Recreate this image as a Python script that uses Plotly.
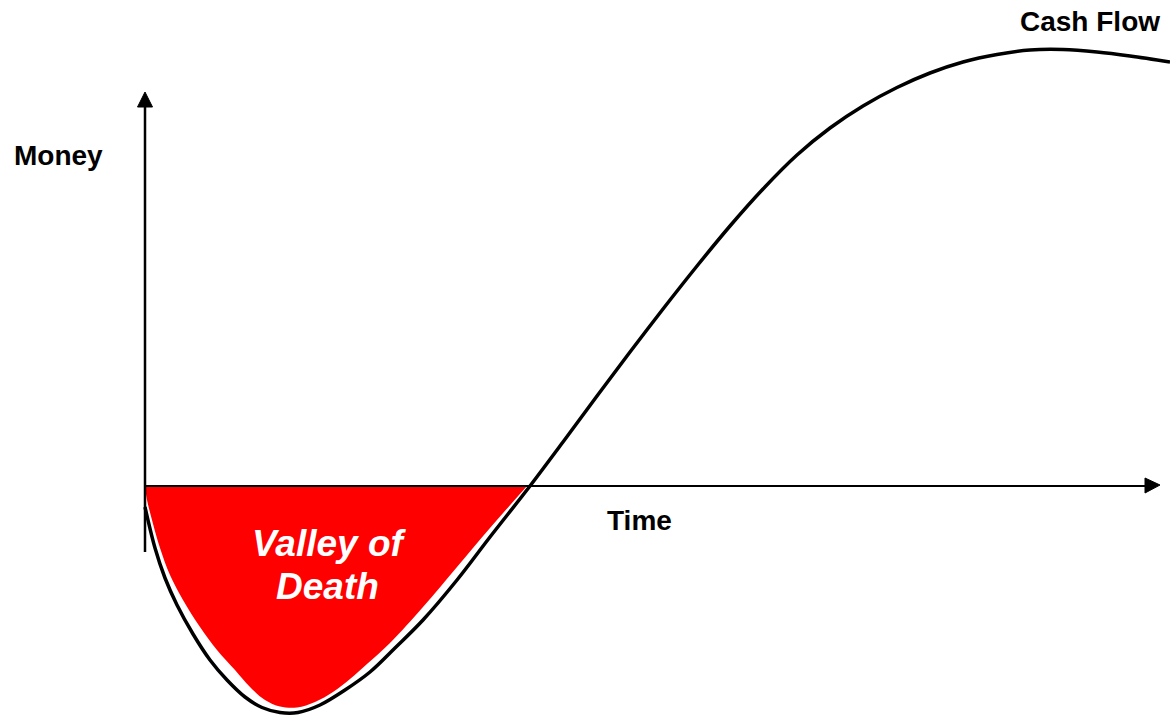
import plotly.graph_objects as go

# Cash flow curve (time units, money units); origin at axes crossing
time = [0, 10, 20, 32, 48, 65, 82, 100, 117, 135, 153, 175, 200, 225, 250, 278, 312, 345, 385,
        418, 452, 485, 518, 552, 585, 618, 652, 685, 718, 752, 785, 818, 852, 885, 918, 952,
        985, 1025]
money = [-21, -62, -92, -119, -148, -174, -194, -211, -221.5, -226.5, -226.5, -219, -204, -186,
         -162, -134, -94, -51, 0,
         44, 90, 134, 177, 220, 260, 297, 331, 358, 380, 398.5, 413, 424, 431.5, 436, 436.5,
         434, 430, 424]

# Valley of Death region: lower edge (filled up to the time axis)
valley_time = [0, 2, 7, 15, 25, 38, 55, 72, 90, 105, 120, 135, 152, 170, 188, 205, 222, 245,
               278, 312, 345, 382]
valley_money = [-1, -14, -34, -62, -89, -114, -141, -164, -184, -201, -214, -220.5, -221.5,
                -216, -206, -193, -178, -157, -121, -81, -42, 0]

labels = {"y_axis": "Money", "x_axis": "Time", "curve": "Cash Flow",
          "valley1": "Valley of", "valley2": "Death"}

FONT = "Liberation Sans, Arial, sans-serif"

fig = go.Figure()
fig.add_trace(go.Scatter(x=valley_time, y=valley_money, mode="lines", fill="tozeroy",
                         fillcolor="#ff0000",
                         line=dict(width=0, color="#ff0000", shape="spline", smoothing=1),
                         hoverinfo="skip", showlegend=False))
fig.add_trace(go.Scatter(x=time, y=money, mode="lines",
                         line=dict(color="black", width=3.5, shape="spline", smoothing=1),
                         hoverinfo="skip", showlegend=False))

shapes = [
    # x axis
    dict(type="line", x0=0, y0=0, x1=1003, y1=0, line=dict(color="black", width=2)),
    dict(type="path", path="M 1000,8 L 1015,1 L 1000,-7 Z", fillcolor="black",
         line=dict(color="black", width=1)),
    # y axis
    dict(type="line", x0=0, y0=-66, x1=0, y1=382, line=dict(color="black", width=2.5)),
    dict(type="path", path="M -7.5,379 L 0,394 L 7.5,379 Z", fillcolor="black",
         line=dict(color="black", width=1)),
]

annotations = [
    dict(x=-87, y=331, text="<b>" + labels["y_axis"] + "</b>", showarrow=False,
         font=dict(family=FONT, size=28, color="black"), xanchor="center", yanchor="middle"),
    dict(x=494, y=-34, text="<b>" + labels["x_axis"] + "</b>", showarrow=False,
         font=dict(family=FONT, size=28, color="black"), xanchor="center", yanchor="middle"),
    dict(x=1017, y=465, text="<b>" + labels["curve"] + "</b>", showarrow=False,
         font=dict(family=FONT, size=28, color="black"), xanchor="right", yanchor="middle"),
    dict(x=184, y=-57, text="<b><i>" + labels["valley1"] + "</i></b>", showarrow=False,
         font=dict(family=FONT, size=37, color="white"), xanchor="center", yanchor="middle"),
    dict(x=182, y=-100, text="<b><i>" + labels["valley2"] + "</i></b>", showarrow=False,
         font=dict(family=FONT, size=37, color="white"), xanchor="center", yanchor="middle"),
]

fig.update_layout(
    width=1170, height=717,
    margin=dict(l=0, r=0, t=0, b=0),
    paper_bgcolor="white", plot_bgcolor="white",
    xaxis=dict(range=[-145, 1025], visible=False, fixedrange=True),
    yaxis=dict(range=[-231, 486], visible=False, fixedrange=True),
    shapes=shapes, annotations=annotations,
)

fig.write_html("out.html", config={"displayModeBar": False},
               post_script="document.body.style.margin='0';")
